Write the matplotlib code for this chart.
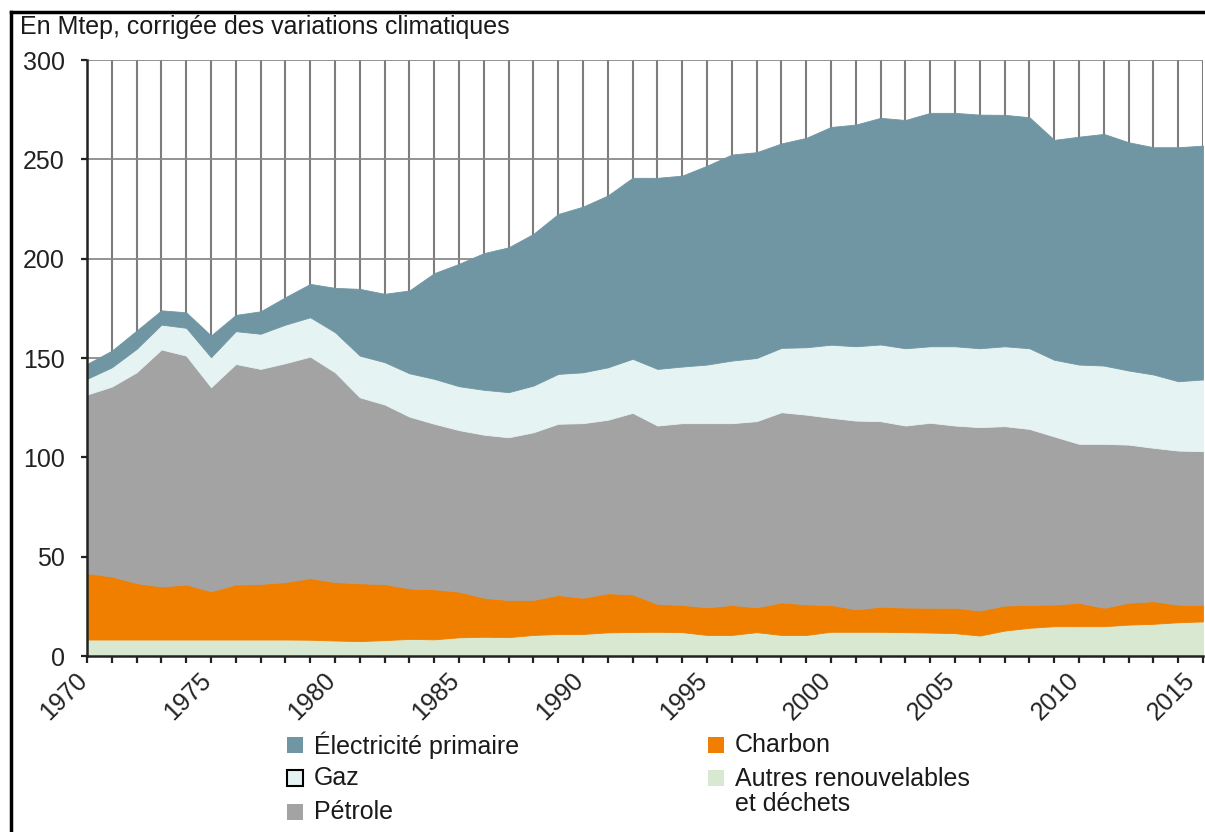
import matplotlib
matplotlib.use("Agg")
import matplotlib.pyplot as plt
from matplotlib.patches import Rectangle
from matplotlib.lines import Line2D
from matplotlib.transforms import ScaledTranslation

plt.rcParams['font.family'] = ['Liberation Sans', 'DejaVu Sans']

years = list(range(1970, 2016))

autres = [8.3, 8.3, 8.3, 8.3, 8.3, 8.3, 8.3, 8.3, 8.3, 8.2,
          7.8, 7.5, 8.0, 8.6, 8.4, 9.4, 9.7, 9.5, 10.6, 11.1,
          11.1, 11.9, 12.1, 12.2, 12.0, 10.6, 10.6, 12.0, 10.6, 10.6,
          12.2, 12.2, 12.2, 12.0, 11.8, 11.5, 10.3, 12.8, 14.2, 15.0,
          15.0, 15.0, 15.8, 16.2, 17.0, 17.4]

charbon = [33.4, 31.7, 28.4, 26.7, 27.7, 24.3, 27.7, 28.0, 28.9, 31.0,
           29.4, 29.1, 28.2, 25.4, 25.2, 23.0, 19.6, 18.7, 17.6, 19.6,
           18.2, 19.7, 18.9, 14.0, 13.7, 13.9, 15.1, 12.5, 16.4, 15.4,
           13.5, 11.3, 12.6, 12.4, 12.5, 12.8, 12.6, 12.6, 11.6, 10.9,
           11.8, 9.3, 11.0, 11.4, 8.8, 8.4]

petrole = [89.9, 95.6, 106.1, 119.3, 115.2, 102.7, 111.0, 108.2, 110.2, 111.5,
           105.6, 93.6, 90.4, 86.5, 83.3, 81.3, 82.1, 81.9, 84.4, 86.2,
           87.9, 87.3, 91.4, 89.8, 91.5, 92.7, 91.5, 93.7, 95.7, 95.5,
           94.2, 95.0, 93.4, 91.6, 93.1, 91.7, 92.3, 90.3, 88.5, 84.6,
           80.0, 82.5, 79.6, 77.2, 77.6, 77.3]

gaz = [7.9, 9.7, 11.8, 12.5, 14.0, 15.1, 16.5, 17.7, 19.4, 19.8,
       20.2, 21.0, 21.3, 21.8, 22.6, 22.1, 22.6, 22.7, 23.5, 25.1,
       25.6, 26.4, 27.2, 28.5, 28.5, 29.5, 31.5, 31.8, 32.4, 33.9,
       36.8, 37.4, 38.6, 38.9, 38.5, 39.9, 39.7, 40.2, 40.6, 38.6,
       39.9, 39.4, 37.3, 36.9, 34.9, 36.1]

electricite = [7.5, 8.4, 9.2, 7.2, 7.8, 10.9, 8.2, 11.3, 13.8, 16.8,
               22.3, 33.6, 34.4, 41.7, 53.2, 61.6, 68.8, 72.9, 76.4, 80.5,
               83.4, 86.5, 91.1, 96.2, 96.1, 100.1, 103.7, 103.6, 102.9, 105.4,
               109.6, 111.6, 114.1, 114.9, 117.5, 117.5, 117.6, 116.5, 116.3, 110.7,
               114.7, 116.6, 114.9, 114.4, 117.8, 117.7]

labels = ["Autres renouvelables\net déchets", "Charbon", "Pétrole", "Gaz", "Électricité primaire"]
colors = ["#d9e8d1", "#f07f00", "#a3a3a3", "#e6f3f3", "#7096a3"]
yticks = [0, 50, 100, 150, 200, 250, 300]
xticks_major = [1970, 1975, 1980, 1985, 1990, 1995, 2000, 2005, 2010, 2015]

FS = 18
W, H = 1205, 832
fig = plt.figure(figsize=(W / 100, H / 100), dpi=100)
ax = fig.add_axes([87 / W, 1 - 656 / H, (1203 - 87) / W, (656 - 60) / H])

series = [autres, charbon, petrole, gaz, electricite]
polys = ax.stackplot(years, *series, colors=colors, zorder=2, linewidth=0.6)
for p, c in zip(polys, colors):
    p.set_edgecolor(c)

ax.set_xlim(1970, 2015)
ax.set_ylim(0, 300)

# grid
for yy in years[1:]:
    ax.axvline(yy, color="#7d7d7d", lw=1.5, zorder=1)
for v in yticks[1:]:
    ax.axhline(v, color="#8a8a8a", lw=1.3, zorder=1)

ax.set_yticks(yticks)
ax.set_xticks(xticks_major)
ax.set_xticks(years, minor=True)
ax.set_xticklabels([str(x) for x in xticks_major], rotation=45, ha="right")

for s in ["top", "right"]:
    ax.spines[s].set_visible(False)
for s in ["left", "bottom"]:
    ax.spines[s].set_linewidth(1.8)
    ax.spines[s].set_color("#222222")
    ax.spines[s].set_zorder(5)

ax.tick_params(axis="y", length=4, width=1.6, pad=12, labelsize=FS, colors="#222222", direction="out")
ax.tick_params(axis="x", which="both", length=5, width=1.6, pad=4, labelsize=FS, colors="#222222", direction="out")
xlabels = ax.get_xticklabels()
for i, lbl in enumerate(xlabels):
    dx = 5 if i < len(xlabels) - 1 else -3
    lbl.set_transform(lbl.get_transform() + ScaledTranslation(dx / 100, 0, fig.dpi_scale_trans))

# title
fig.text(20 / W, 1 - 27 / H, "En Mtep, corrigée des variations climatiques",
         fontsize=FS, ha="left", va="center", color="#1a1a1a")

# figure frame (left and top edges)
fig.add_artist(Line2D([11 / W, 11 / W], [0, 1 - 12 / H], transform=fig.transFigure, color="black", lw=2.5))
fig.add_artist(Line2D([11 / W, 1], [1 - 12 / H, 1 - 12 / H], transform=fig.transFigure, color="black", lw=2.5))

# legend drawn by hand
sq = 16
leg = [
    (labels[4], colors[4], False, 287, 745),
    (labels[3], colors[3], True, 287, 778),
    (labels[2], colors[2], False, 287, 812),
    (labels[1], colors[1], False, 708, 745),
    (labels[0], colors[0], False, 708, 778),
]
for text, col, edged, px, py in leg:
    r = Rectangle((px / W, 1 - (py + sq / 2) / H), sq / W, sq / H, transform=fig.transFigure,
                  facecolor=col, edgecolor="black" if edged else col, lw=1.5 if edged else 0)
    fig.add_artist(r)
    if "\n" in text:
        fig.text((px + 27) / W, 1 - (py - 11) / H, text, fontsize=FS, ha="left", va="top",
                 color="#1a1a1a", linespacing=1.05)
    else:
        fig.text((px + 27) / W, 1 - py / H, text, fontsize=FS, ha="left", va="center", color="#1a1a1a")

fig.savefig("out.png", dpi=100)
